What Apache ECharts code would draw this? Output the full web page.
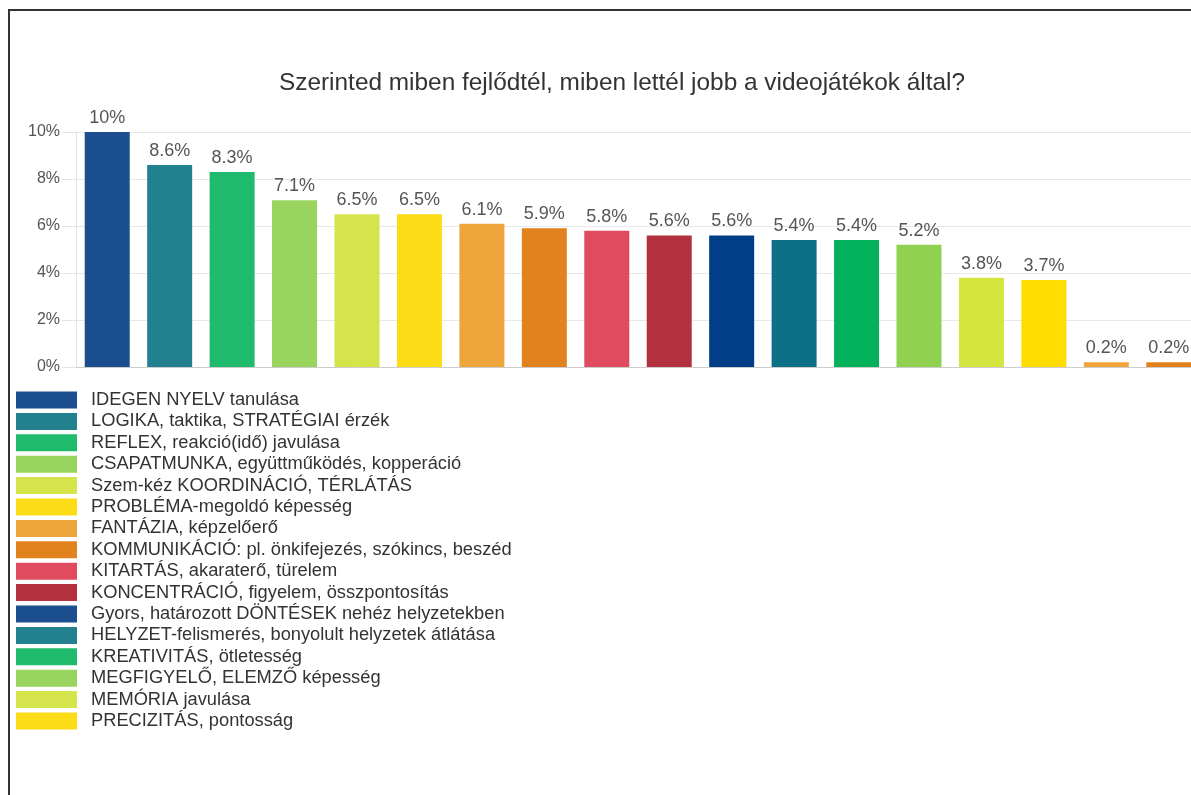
<!DOCTYPE html>
<html>
<head>
<meta charset="utf-8">
<script src="https://cdn.jsdelivr.net/npm/echarts@6/dist/echarts.min.js"></script>
<style>
  html, body { margin: 0; padding: 0; background: #fff; overflow: hidden; width: 1191px; height: 795px; }
  #chart { width: 1230px; height: 795px; }
</style>
</head>
<body>
<div id="chart"></div>
<script>
const titleText = 'Szerinted miben fejlődtél, miben lettél jobb a videojátékok által?';

const categories = [
  'IDEGEN NYELV tanulása',
  'LOGIKA, taktika, STRATÉGIAI érzék',
  'REFLEX, reakció(idő) javulása',
  'CSAPATMUNKA, együttműködés, kopperáció',
  'Szem-kéz KOORDINÁCIÓ, TÉRLÁTÁS',
  'PROBLÉMA-megoldó képesség',
  'FANTÁZIA, képzelőerő',
  'KOMMUNIKÁCIÓ: pl. önkifejezés, szókincs, beszéd',
  'KITARTÁS, akaraterő, türelem',
  'KONCENTRÁCIÓ, figyelem, összpontosítás',
  'Gyors, határozott DÖNTÉSEK nehéz helyzetekben',
  'HELYZET-felismerés, bonyolult helyzetek átlátása',
  'KREATIVITÁS, ötletesség',
  'MEGFIGYELŐ, ELEMZŐ képesség',
  'MEMÓRIA javulása',
  'PRECIZITÁS, pontosság',
  'Egyéb',
  'Egyéb válasz'
];

const values = [10, 8.6, 8.3, 7.1, 6.5, 6.5, 6.1, 5.9, 5.8, 5.6, 5.6, 5.4, 5.4, 5.2, 3.8, 3.7, 0.2, 0.2];

const barColors = [
  '#1b4e8e', '#23818f', '#1fba6c', '#98d45e', '#d6e44c',
  '#fcdc16', '#eda53c', '#e1821f', '#e04b5f', '#b3303e',
  '#003f87', '#0c7186', '#02b15a', '#90d250', '#d5e540',
  '#ffdd00', '#f0a43a', '#e4801c'
];

const legendColors = [
  '#1b4e8e', '#23818f', '#1fba6c', '#98d45e', '#d6e44c',
  '#fcdc16', '#eda53c', '#e1821f', '#e04b5f', '#b3303e'
];

const legendCount = 16;

const yTicks = { min: 0, max: 10, interval: 2 };

const FONT = "'Liberation Sans', Arial, sans-serif";

const chart = echarts.init(document.getElementById('chart'), null, { renderer: 'canvas' });

const series = categories.map((name, i) => ({
  name: name,
  type: 'bar',
  stack: 'all',
  barWidth: 45,
  data: categories.map((c, j) => (j === i ? values[i] : '-')),
  itemStyle: { color: barColors[i] },
  label: {
    show: true,
    position: 'top',
    distance: 5,
    color: '#555',
    fontSize: 18,
    fontFamily: FONT,
    formatter: p => p.value + '%'
  },
  emphasis: { disabled: true }
}));

const option = {
  animation: false,
  backgroundColor: '#fff',
  title: {
    text: titleText,
    left: 617,
    top: 66,
    textAlign: 'center',
    textStyle: { fontSize: 24.4, fontWeight: 'normal', color: '#333', fontFamily: FONT }
  },
  legend: {
    orient: 'vertical',
    left: 16,
    top: 391,
    padding: 0,
    icon: 'rect',
    itemWidth: 61,
    itemHeight: 17,
    itemGap: 3.4,
    selectedMode: false,
    textStyle: { fontSize: 18.3, color: '#333', fontFamily: FONT, padding: [0, 0, 0, 9] },
    data: categories.slice(0, legendCount).map((n, i) => ({
      name: n,
      itemStyle: { color: legendColors[i % legendColors.length] }
    }))
  },
  grid: { left: 76, right: 30, top: 132, bottom: 428, containLabel: false },
  xAxis: {
    type: 'category',
    data: categories,
    axisLabel: { show: false },
    axisTick: { show: false },
    axisLine: { show: true, lineStyle: { color: '#cccccc', width: 1 } }
  },
  yAxis: {
    type: 'value',
    min: yTicks.min,
    max: yTicks.max,
    interval: yTicks.interval,
    axisLabel: {
      formatter: v => v + '%',
      color: '#555',
      fontSize: 16,
      fontFamily: FONT,
      margin: 16
    },
    axisLine: { show: true, lineStyle: { color: '#e4e4e4' } },
    axisTick: { show: true, length: 14, lineStyle: { color: '#e4e4e4' } },
    splitLine: { lineStyle: { color: '#e8e8e8' } }
  },
  graphic: [
    {
      type: 'polyline',
      shape: { points: [[9, 795], [9, 10], [1230, 10]] },
      style: { stroke: '#333', lineWidth: 2, fill: null },
      silent: true,
      z: 100
    }
  ],
  series: series
};

chart.setOption(option);
</script>
</body>
</html>
